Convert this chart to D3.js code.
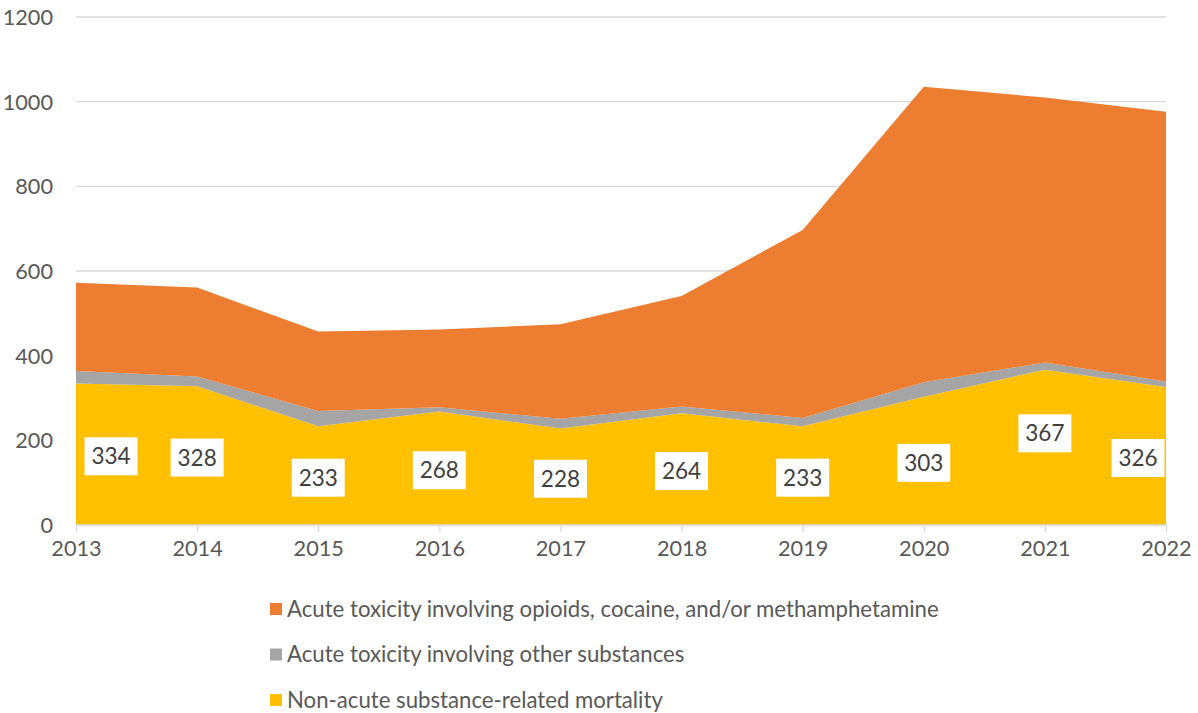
<!DOCTYPE html>
<html><head><meta charset="utf-8">
<script src="https://cdn.jsdelivr.net/npm/d3@7"></script>
<style>body{margin:0;background:#fff}svg{display:block;font-family:Lato, "Open Sans", sans-serif}</style>
</head><body>
<svg id="c" width="1198" height="713"></svg>
<script>
const years = [2013,2014,2015,2016,2017,2018,2019,2020,2021,2022];
const nonAcute = [334,328,233,268,228,264,233,303,367,326];
const otherSubst = [30,23,36,10,23,16,20,34,17,13];
const opioids = [208,210,188,184,223,261,444,698,626,637];
const yTicks = [0,200,400,600,800,1000,1200];
const seriesNames = ["Acute toxicity involving opioids, cocaine, and/or methamphetamine","Acute toxicity involving other substances","Non-acute substance-related mortality"];
const colors = {nonAcute:"#FFC000", otherSubst:"#A5A5A5", opioids:"#ED7D31"};

const svg = d3.select("#c");
const x = d3.scaleLinear().domain([2013,2022]).range([76,1166]);
const y = d3.scaleLinear().domain([0,1200]).range([525,17]);

// gridlines
svg.append("g").selectAll("line").data(yTicks.slice(1)).join("line")
  .attr("x1",76).attr("x2",1166).attr("y1",d=>y(d)).attr("y2",d=>y(d))
  .attr("stroke","#d9d9d9").attr("stroke-width",1.3);

const rows = years.map((yr,i)=>({year:yr, nonAcute:nonAcute[i], otherSubst:otherSubst[i], opioids:opioids[i]}));
const stack = d3.stack().keys(["nonAcute","otherSubst","opioids"]);
const layers = stack(rows);
const area = d3.area().x(d=>x(d.data.year)).y0(d=>y(d[0])).y1(d=>y(d[1]));
svg.append("g").selectAll("path").data(layers).join("path")
  .attr("d",area).attr("fill",d=>colors[d.key]);

// y axis labels
const yAxis = d3.axisLeft(y).tickValues(yTicks).tickFormat(d3.format("d")).tickSize(0).tickPadding(0);
const ya = svg.append("g").attr("transform","translate(53,0)").call(yAxis);
ya.select(".domain").remove();
ya.selectAll("text").attr("font-size",21.7).attr("fill","#595959").attr("font-family","Lato, sans-serif").attr("dy","0.35em");

// x axis
const xAxis = d3.axisBottom(x).tickValues(years).tickFormat(d3.format("d")).tickSize(7).tickPadding(9);
const xa = svg.append("g").attr("transform","translate(0,525)").call(xAxis);
xa.select(".domain").attr("stroke","#d9d9d9").attr("stroke-width",1.3).attr("d","M76,0H1166");
xa.selectAll(".tick line").attr("stroke","#d9d9d9").attr("stroke-width",1.3);
xa.selectAll("text").attr("font-size",21.7).attr("fill","#595959").attr("font-family","Lato, sans-serif");

// data labels
const lab = svg.append("g").selectAll("g").data(rows).join("g")
  .attr("transform",(d,i)=>{
    let cx = x(d.year);
    if(i===0) cx += 35; if(i===rows.length-1) cx -= 28;
    let cy = y(d.nonAcute/2)+2;
    if(i===8) cy -= 16;
    return `translate(${cx},${cy})`;
  });
lab.append("rect").attr("x",-26.5).attr("y",-19).attr("width",53).attr("height",38).attr("fill","#fff");
lab.append("text").attr("text-anchor","middle").attr("dy","0.36em").attr("font-size",22.5).attr("fill","#404040").text(d=>d.nonAcute);

// legend
const leg = svg.append("g").selectAll("g").data([["opioids",seriesNames[0]],["otherSubst",seriesNames[1]],["nonAcute",seriesNames[2]]]).join("g")
  .attr("transform",(d,i)=>`translate(270,${609+i*45.5})`);
leg.append("rect").attr("x",0).attr("y",-6).attr("width",12).attr("height",12).attr("fill",d=>colors[d[0]]);
leg.append("text").attr("x",17).attr("dy","0.35em").attr("font-size",22.2).attr("fill","#595959").text(d=>d[1]);
</script>
</body></html>
